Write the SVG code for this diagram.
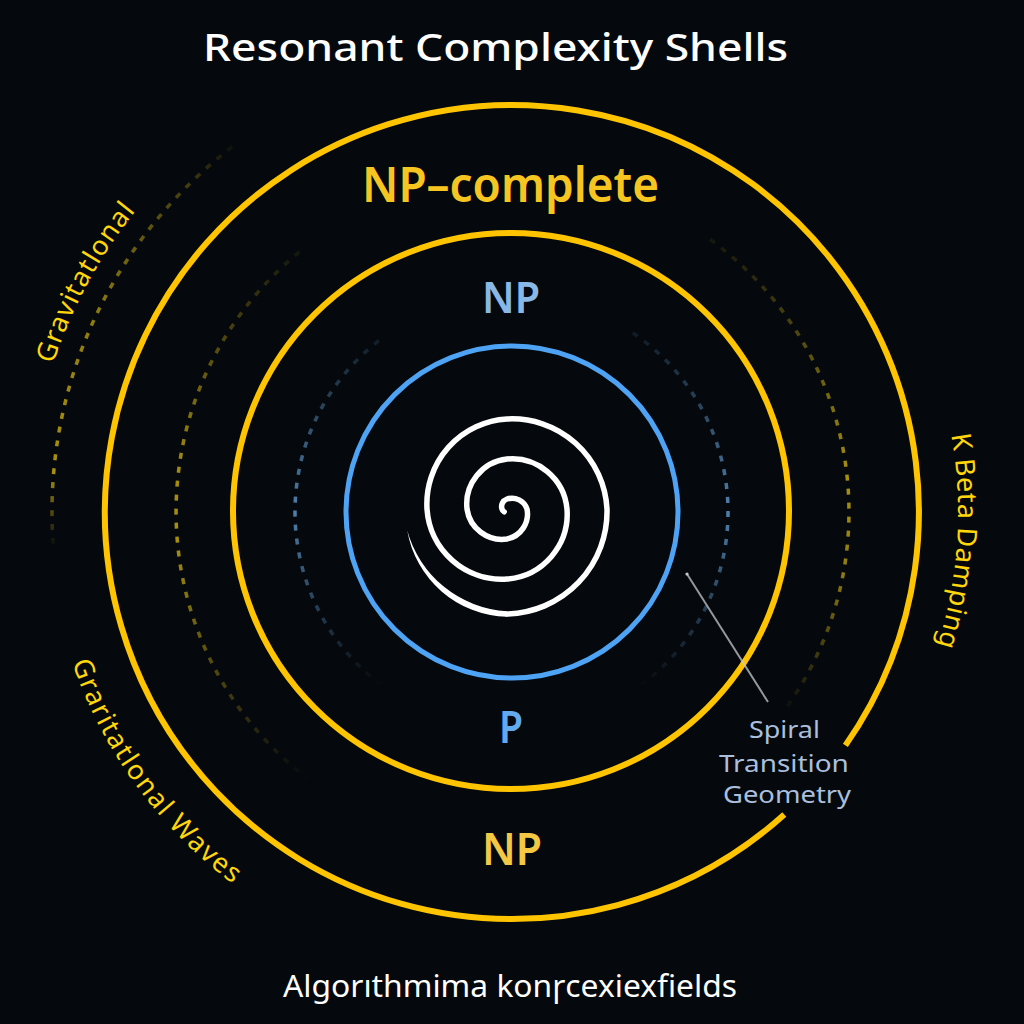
<svg xmlns="http://www.w3.org/2000/svg" width="1024" height="1024" viewBox="0 0 1024 1024">
  <style>
    .ring-y { fill: none; stroke: #ffc400; stroke-width: 6; }
    .ring-b { fill: none; stroke: #4fa3f4; stroke-width: 5; }
    .dash { fill: none; stroke-width: 3.5; stroke-dasharray: 6 8; }
    .sans { font-family: "Noto Sans", "Open Sans", "Liberation Sans", sans-serif; }
    .side { font-family: "Noto Sans", "Open Sans", "Liberation Sans", sans-serif; fill: #ffd60a; font-size: 27px; }
    .lbl { text-anchor: middle; font-weight: 600; }
  </style>
  <defs>
    <linearGradient id="gOutL" gradientUnits="userSpaceOnUse" x1="53" y1="548" x2="242" y2="140">
      <stop offset="0" stop-color="#a8900f" stop-opacity="0"/>
      <stop offset="0.15" stop-color="#a8900f" stop-opacity="1"/>
      <stop offset="0.5" stop-color="#a8900f" stop-opacity="0.85"/>
      <stop offset="0.85" stop-color="#a8900f" stop-opacity="0.4"/>
      <stop offset="1" stop-color="#a8900f" stop-opacity="0"/>
    </linearGradient>
    <linearGradient id="gMidL" gradientUnits="userSpaceOnUse" x1="0" y1="780" x2="0" y2="251">
      <stop offset="0" stop-color="#a8900f" stop-opacity="0"/>
      <stop offset="0.45" stop-color="#a8900f" stop-opacity="1"/>
      <stop offset="0.6" stop-color="#a8900f" stop-opacity="0.95"/>
      <stop offset="1" stop-color="#a8900f" stop-opacity="0.1"/>
    </linearGradient>
    <linearGradient id="gMidR" gradientUnits="userSpaceOnUse" x1="0" y1="239" x2="0" y2="715">
      <stop offset="0" stop-color="#a8900f" stop-opacity="0.1"/>
      <stop offset="0.5" stop-color="#a8900f" stop-opacity="1"/>
      <stop offset="0.7" stop-color="#a8900f" stop-opacity="0.85"/>
      <stop offset="1" stop-color="#a8900f" stop-opacity="0"/>
    </linearGradient>
    <linearGradient id="gBlueL" gradientUnits="userSpaceOnUse" x1="0" y1="686" x2="0" y2="336">
      <stop offset="0" stop-color="#4f80ad" stop-opacity="0"/>
      <stop offset="0.5" stop-color="#4f80ad" stop-opacity="1"/>
      <stop offset="1" stop-color="#4f80ad" stop-opacity="0.15"/>
    </linearGradient>
    <linearGradient id="gBlueR" gradientUnits="userSpaceOnUse" x1="0" y1="333" x2="0" y2="687">
      <stop offset="0" stop-color="#4f80ad" stop-opacity="0.15"/>
      <stop offset="0.5" stop-color="#4f80ad" stop-opacity="1"/>
      <stop offset="1" stop-color="#4f80ad" stop-opacity="0"/>
    </linearGradient>
    <path id="pGravTop" d="M 46.4,387.3 A 482 482 0 0 1 202.2,142.8"/>
    <path id="pKBeta" d="M 931.1,359.5 A 446 446 0 0 1 853.7,798.7"/>
    <path id="pGravWaves" d="M 54.1,592.7 A 465 465 0 0 0 353,949"/>
  </defs>

  <rect width="1024" height="1024" fill="#05090d"/>

  <g id="title">
    <text class="sans" x="495.5" y="61" font-size="38" font-weight="500" fill="#ffffff" text-anchor="middle" textLength="585" lengthAdjust="spacingAndGlyphs">Resonant Complexity Shells</text>
  </g>

  <g id="dashed-arcs">
    <path class="dash" stroke="url(#gOutL)" d="M 53.1,544.1 A 460 460 0 0 1 241.6,139.8"/>
    <path class="dash" stroke="url(#gMidL)" d="M 309.8,780.3 A 336 336 0 0 1 300.6,250.9"/>
    <path class="dash" stroke="url(#gMidR)" d="M 710.1,239.4 A 337 337 0 0 1 781.1,714.8"/>
    <path class="dash" stroke="url(#gBlueL)" d="M 381.4,685.3 A 217 217 0 0 1 384.5,336.4"/>
    <path class="dash" stroke="url(#gBlueR)" d="M 632.8,332.9 A 216 216 0 0 1 639,686.7"/>
  </g>

  <g id="shell-np-complete">
    <path class="ring-y" d="M 784.3,814.5 A 407 407 0 1 1 845.4,745.4"/>
    <text class="sans lbl" x="510.5" y="202" font-size="48" fill="#f7c520" textLength="297" lengthAdjust="spacingAndGlyphs">NP–complete</text>
  </g>

  <g id="shell-np">
    <circle class="ring-y" cx="511" cy="511" r="278"/>
    <text class="sans lbl" x="511" y="313" font-size="44" fill="#8ab8e6" textLength="58" lengthAdjust="spacingAndGlyphs">NP</text>
    <text class="sans lbl" x="512" y="865" font-size="45" font-weight="700" fill="#f4c843" textLength="60" lengthAdjust="spacingAndGlyphs">NP</text>
  </g>

  <g id="shell-p">
    <circle class="ring-b" cx="512" cy="512" r="166"/>
    <text class="sans lbl" x="511" y="743" font-size="45" fill="#62a9ee" textLength="24" lengthAdjust="spacingAndGlyphs">P</text>
  </g>

  <g id="spiral">
    <path fill="none" stroke="#ffffff" stroke-width="5.5" stroke-linecap="round" d="M 504.2,511.8 A 4.5 4.5 0 0 1 502,509 A 7.9 7.9 0 0 1 507,499 A 15.8 15.8 0 0 1 527,509 A 25.5 25.5 0 0 1 507,539 A 35.4 35.4 0 0 1 467,509 A 45.3 45.3 0 0 1 507,459 A 55.2 55.2 0 0 1 567,509 A 65.2 65.2 0 0 1 507,579 A 75.2 75.2 0 0 1 427,509 A 85.1 85.1 0 0 1 507,419 A 95.1 95.1 0 0 1 607,509 A 102.5 102.5 0 0 1 507,614"/>
    <path fill="#ffffff" d="M 507,616.8 A 104 104 0 0 1 407.2,530.2 A 110 110 0 0 0 507,611.2 Z"/>
  </g>

  <g id="connectors">
    <line x1="687" y1="574" x2="768" y2="702" stroke="#c4c9cf" stroke-opacity="0.75" stroke-width="2"/>
    <circle cx="687" cy="574" r="1.6" fill="#c4c9cf"/>
  </g>

  <g id="spiral-label">
    <text class="sans" font-size="24" fill="#aabfdc" text-anchor="middle">
      <tspan x="787.5" y="738" textLength="71" lengthAdjust="spacingAndGlyphs">Spiral</tspan>
      <tspan x="787" y="772" textLength="130" lengthAdjust="spacingAndGlyphs">Transition</tspan>
      <tspan x="787" y="803" textLength="128" lengthAdjust="spacingAndGlyphs">Geometry</tspan>
    </text>
  </g>

  <g id="side-labels">
    <text class="side" letter-spacing="1"><textPath href="#pGravTop" startOffset="24">Gravitatlonal</textPath></text>
    <text class="side" font-size="28" letter-spacing="0.6"><textPath href="#pKBeta" startOffset="78">K Beta Damping</textPath></text>
    <text class="side" letter-spacing="1.6"><textPath href="#pGravWaves" startOffset="72">Graritatlonal Waves</textPath></text>
  </g>

  <g id="footer">
    <text class="sans" x="510" y="997" font-size="30" fill="#ffffff" text-anchor="middle" textLength="454" lengthAdjust="spacingAndGlyphs">Algorıthmima konɼcexiexfields</text>
  </g>
</svg>
